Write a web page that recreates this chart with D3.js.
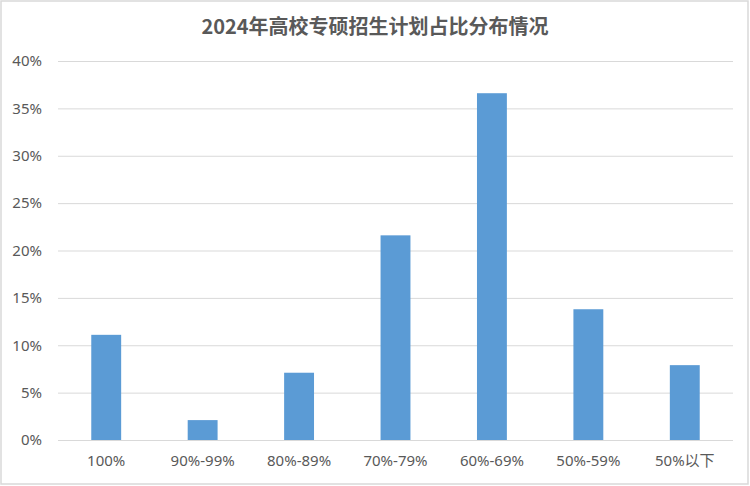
<!DOCTYPE html>
<html>
<head>
<meta charset="utf-8">
<script src="https://cdn.jsdelivr.net/npm/d3@7"></script>
<style>
  body { margin: 0; background: #fff; }
  text { font-family: "Noto Sans", "Noto Sans CJK SC", sans-serif; }
</style>
</head>
<body>
<div id="chart"></div>
<script>
// Data
const categories = ["100%", "90%-99%", "80%-89%", "70%-79%", "60%-69%", "50%-59%", "50%以下"];
const shares = [11.1, 2.1, 7.1, 21.6, 36.6, 13.8, 7.9];
const yTicks = [0, 5, 10, 15, 20, 25, 30, 35, 40];
const title = "2024年高校专硕招生计划占比分布情况";

const width = 750,
    height = 486;
const margin = { top: 61, right: 17, bottom: 46, left: 58 };

const svg = d3.select("#chart")
    .append("svg")
    .attr("width", width)
    .attr("height", height);

// chart area border
svg.append("rect")
    .attr("x", 1)
    .attr("y", 1)
    .attr("width", width - 3)
    .attr("height", height - 3)
    .attr("fill", "#fff")
    .attr("stroke", "#d9d9d9")
    .attr("stroke-width", 1.5);

const x = d3.scaleBand()
    .domain(categories)
    .range([margin.left, width - margin.right])
    .paddingInner(0.69)
    .paddingOuter(0.345);

const y = d3.scaleLinear()
    .domain([0, 40])
    .range([height - margin.bottom, margin.top]);

// gridlines and y labels
const yAxis = d3.axisLeft(y)
    .tickValues(yTicks)
    .tickSize(-(width - margin.left - margin.right))
    .tickPadding(16)
    .tickFormat(d => d + "%");

svg.append("g")
    .attr("transform", "translate(" + margin.left + ",0)")
    .call(yAxis)
    .call(g => g.select(".domain").remove())
    .call(g => g.selectAll(".tick line").attr("stroke", "#d9d9d9").attr("stroke-width", 1))
    .call(g => g.selectAll(".tick text")
        .attr("fill", "#595959")
        .style("font-size", "15px"));

// bars
svg.selectAll(".bar")
    .data(shares)
    .enter()
    .append("rect")
    .attr("class", "bar")
    .attr("x", (d, i) => x(categories[i]))
    .attr("y", d => y(d))
    .attr("width", x.bandwidth())
    .attr("height", d => y(0) - y(d))
    .attr("fill", "#5b9bd5");

// x labels
const xAxis = d3.axisBottom(x)
    .tickSize(0)
    .tickPadding(15);

svg.append("g")
    .attr("transform", "translate(0," + (height - margin.bottom) + ")")
    .call(xAxis)
    .call(g => g.select(".domain").remove())
    .call(g => g.selectAll(".tick text")
        .attr("fill", "#595959")
        .style("font-size", "15px"));

// title
svg.append("text")
    .attr("x", width / 2)
    .attr("y", 34)
    .attr("text-anchor", "middle")
    .attr("fill", "#595959")
    .style("font-family", "'Noto Sans CJK SC', sans-serif")
    .style("font-size", "20px")
    .style("font-weight", "bold")
    .text(title);
</script>
</body>
</html>
